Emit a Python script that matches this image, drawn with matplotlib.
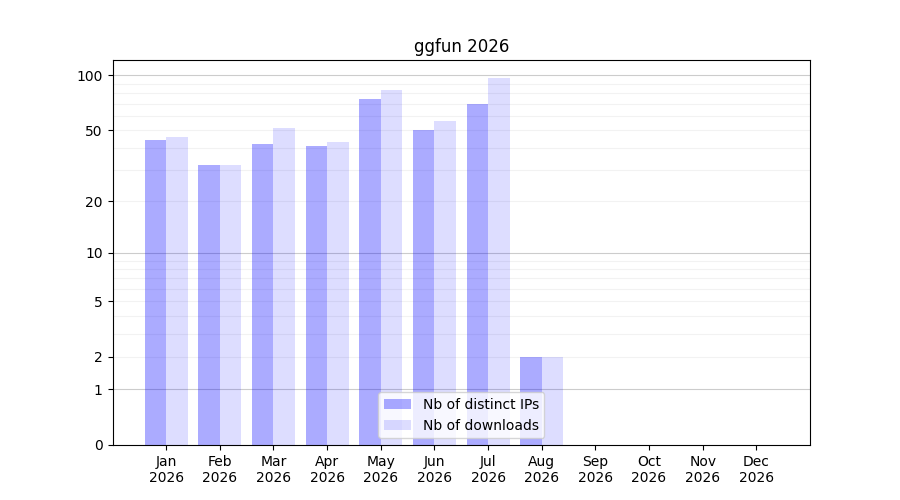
import numpy as np
import matplotlib
matplotlib.use("Agg")
import matplotlib.pyplot as plt

months = ["Jan", "Feb", "Mar", "Apr", "May", "Jun", "Jul", "Aug", "Sep", "Oct", "Nov", "Dec"]
year = 2026
distinct_ips = [44, 32, 42, 41, 74, 50, 70, 2, 0, 0, 0, 0]
downloads = [46, 32, 51, 43, 83, 56, 97, 2, 0, 0, 0, 0]
yticks = [0, 1, 2, 5, 10, 20, 50, 100]

fig, ax = plt.subplots(figsize=(9, 5), dpi=100)
ax.set_yscale("function", functions=(lambda y: np.log10(1 + np.clip(y, -0.999, None)),
                                     lambda y: 10 ** y - 1))

x = np.arange(len(months))
ax.bar(x - 0.2, distinct_ips, width=0.4, color="blue", alpha=0.33, label="Nb of distinct IPs")
ax.bar(x + 0.2, downloads, width=0.4, color="blue", alpha=0.135, label="Nb of downloads")

# grid: darker at decades, light in between
for v in [1, 10, 100]:
    ax.axhline(v, color="0.5", alpha=0.4, lw=0.8, zorder=0.5)
for v in list(range(2, 10)) + list(range(20, 100, 10)):
    ax.axhline(v, color="0.5", alpha=0.1, lw=0.8, zorder=0.5)

ax.set_xticks(x)
ax.set_xticklabels(["{}\n{}".format(m, year) for m in months])
ax.set_yticks(yticks)
ax.set_yticklabels([str(t) for t in yticks])
ax.minorticks_off()
ax.set_xlim(-1, 12)
ax.set_ylim(0, max(downloads) * 1.25)
ax.set_title("ggfun {}".format(year))
ax.legend(loc="lower center")

plt.savefig("out.png")
